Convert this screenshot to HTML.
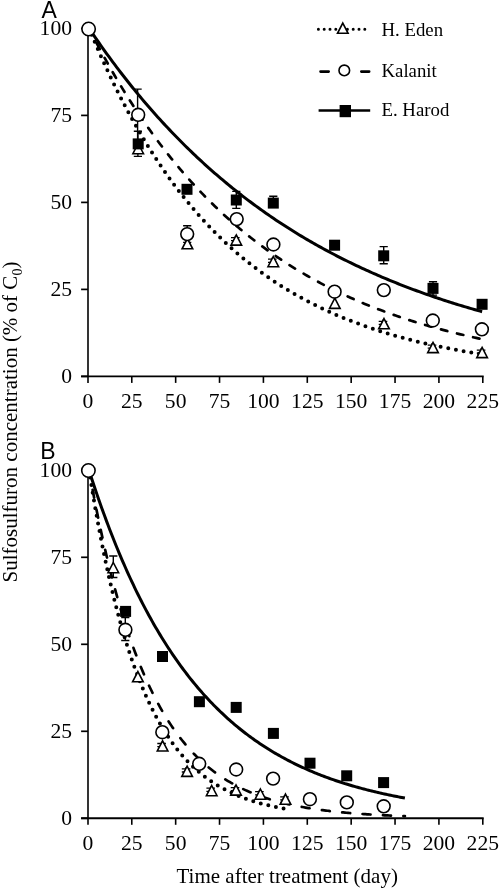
<!DOCTYPE html>
<html><head><meta charset="utf-8"><style>
html,body{margin:0;padding:0;background:#fff;overflow:hidden;width:500px;height:889px;}
svg{display:block;filter:grayscale(1);}
.t{font-family:"Liberation Serif",serif;font-size:21px;fill:#000;}
.lg{font-family:"Liberation Serif",serif;font-size:18.8px;fill:#000;}
.tk{font-size:21.6px;}
.ss{font-family:"Liberation Sans",sans-serif;font-size:23px;fill:#000;}
.ax{stroke:#000;stroke-width:1.9;fill:none;}
.solid{stroke:#000;stroke-width:3;fill:none;}
.dash{stroke:#000;stroke-width:2.7;fill:none;stroke-linecap:round;}
.dot{stroke:#000;stroke-width:4;fill:none;stroke-linecap:round;}
.tri{fill:#fff;stroke:#000;stroke-width:1.6;stroke-linejoin:miter;}
.cir{fill:#fff;stroke:#000;stroke-width:1.6;}
.sq{fill:#000;}
.eb{stroke:#000;stroke-width:1.4;fill:none;}
</style></head><body>
<svg width="500" height="889" viewBox="0 0 500 889">
<text class="ss" x="41.6" y="18.0">A</text>
<text class="ss" x="40.2" y="459.2">B</text>
<text class="t" x="176.5" y="882.7">Time after treatment (day)</text>
<text class="t" transform="translate(17.0 582.4) rotate(-90)">Sulfosulfuron concentration (% of C<tspan font-size="14" dy="5">0</tspan><tspan dy="-5">)</tspan></text>
<path class="ax" style="stroke-width:1.6" d="M88.00 24.00 V382.90"/>
<path class="ax" d="M81.10 376.40 H483.70"/>
<text class="t tk" x="87.90" y="408.30" text-anchor="middle">0</text>
<path class="ax" style="stroke-width:1.6" d="M131.78 376.40 V382.90"/>
<text class="t tk" x="131.78" y="408.30" text-anchor="middle">25</text>
<path class="ax" style="stroke-width:1.6" d="M175.66 376.40 V382.90"/>
<text class="t tk" x="175.66" y="408.30" text-anchor="middle">50</text>
<path class="ax" style="stroke-width:1.6" d="M219.53 376.40 V382.90"/>
<text class="t tk" x="219.53" y="408.30" text-anchor="middle">75</text>
<path class="ax" style="stroke-width:1.6" d="M263.41 376.40 V382.90"/>
<text class="t tk" x="263.41" y="408.30" text-anchor="middle">100</text>
<path class="ax" style="stroke-width:1.6" d="M307.29 376.40 V382.90"/>
<text class="t tk" x="307.29" y="408.30" text-anchor="middle">125</text>
<path class="ax" style="stroke-width:1.6" d="M351.17 376.40 V382.90"/>
<text class="t tk" x="351.17" y="408.30" text-anchor="middle">150</text>
<path class="ax" style="stroke-width:1.6" d="M395.04 376.40 V382.90"/>
<text class="t tk" x="395.04" y="408.30" text-anchor="middle">175</text>
<path class="ax" style="stroke-width:1.6" d="M438.92 376.40 V382.90"/>
<text class="t tk" x="438.92" y="408.30" text-anchor="middle">200</text>
<path class="ax" style="stroke-width:1.6" d="M482.80 376.40 V382.90"/>
<text class="t tk" x="482.80" y="408.30" text-anchor="middle">225</text>
<path class="ax" style="stroke-width:1.7" d="M81.10 376.40 H87.90"/>
<text class="t tk" x="72" y="383.30" text-anchor="end">0</text>
<path class="ax" style="stroke-width:1.7" d="M81.10 289.40 H87.90"/>
<text class="t tk" x="72" y="296.30" text-anchor="end">25</text>
<path class="ax" style="stroke-width:1.7" d="M81.10 202.40 H87.90"/>
<text class="t tk" x="72" y="209.30" text-anchor="end">50</text>
<path class="ax" style="stroke-width:1.7" d="M81.10 115.40 H87.90"/>
<text class="t tk" x="72" y="122.30" text-anchor="end">75</text>
<path class="ax" style="stroke-width:1.7" d="M81.10 28.40 H87.90"/>
<text class="t tk" x="72" y="35.30" text-anchor="end">100</text>
<path class="dot" style="stroke-dasharray:0.000 7.800;stroke-dashoffset:1.018" d="M89.07 28.40 L91.04 33.16 L93.00 37.86 L94.97 42.49 L96.93 47.06 L98.90 51.56 L100.86 56.01 L102.83 60.39 L104.79 64.71 L106.76 68.98 L108.72 73.18 L110.69 77.33 L112.65 81.43 L114.62 85.46 L116.58 89.44 L118.55 93.37 L120.51 97.24 L122.48 101.06 L124.44 104.83 L126.41 108.54 L128.37 112.21 L130.34 115.82 L132.30 119.39 L134.27 122.90 L136.23 126.37 L138.20 129.79 L140.16 133.17 L142.13 136.49 L144.09 139.78 L146.06 143.01 L148.02 146.21 L149.99 149.36 L151.95 152.46 L153.92 155.53 L155.89 158.55 L157.85 161.53 L159.82 164.47 L161.78 167.37 L163.75 170.23 L165.71 173.05 L167.68 175.83 L169.64 178.57 L171.61 181.28 L173.57 183.95 L175.54 186.58 L177.50 189.18 L179.47 191.74 L181.43 194.27 L183.40 196.76 L185.36 199.22 L187.33 201.64 L189.29 204.03 L191.26 206.39 L193.22 208.72 L195.19 211.01 L197.15 213.27 L199.12 215.51 L201.08 217.71 L203.05 219.88 L205.01 222.02 L206.98 224.13 L208.94 226.22 L210.91 228.27 L212.87 230.30 L214.84 232.30 L216.80 234.27 L218.77 236.21 L220.74 238.13 L222.70 240.02 L224.67 241.89 L226.63 243.73 L228.60 245.54 L230.56 247.33 L232.53 249.10 L234.49 250.84 L236.46 252.56 L238.42 254.25 L240.39 255.92 L242.35 257.57 L244.32 259.20 L246.28 260.80 L248.25 262.38 L250.21 263.94 L252.18 265.48 L254.14 267.00 L256.11 268.50 L258.07 269.97 L260.04 271.43 L262.00 272.86 L263.97 274.28 L265.93 275.68 L267.90 277.06 L269.86 278.42 L271.83 279.76 L273.79 281.08 L275.76 282.38 L277.72 283.67 L279.69 284.94 L281.65 286.19 L283.62 287.42 L285.59 288.64 L287.55 289.84 L289.52 291.03 L291.48 292.19 L293.45 293.35 L295.41 294.48 L297.38 295.60 L299.34 296.71 L301.31 297.80 L303.27 298.87 L305.24 299.93 L307.20 300.98 L309.17 302.01 L311.13 303.03 L313.10 304.03 L315.06 305.02 L317.03 306.00 L318.99 306.96 L320.96 307.91 L322.92 308.85 L324.89 309.77 L326.85 310.69 L328.82 311.59 L330.78 312.47 L332.75 313.35 L334.71 314.21 L336.68 315.06 L338.64 315.90 L340.61 316.73 L342.57 317.54 L344.54 318.35 L346.50 319.14 L348.47 319.93 L350.44 320.70 L352.40 321.46 L354.37 322.21 L356.33 322.95 L358.30 323.69 L360.26 324.41 L362.23 325.12 L364.19 325.82 L366.16 326.51 L368.12 327.19 L370.09 327.87 L372.05 328.53 L374.02 329.19 L375.98 329.83 L377.95 330.47 L379.91 331.10 L381.88 331.72 L383.84 332.33 L385.81 332.93 L387.77 333.53 L389.74 334.11 L391.70 334.69 L393.67 335.26 L395.63 335.83 L397.60 336.38 L399.56 336.93 L401.53 337.47 L403.49 338.00 L405.46 338.53 L407.42 339.04 L409.39 339.56 L411.35 340.06 L413.32 340.56 L415.29 341.05 L417.25 341.53 L419.22 342.01 L421.18 342.48 L423.15 342.94 L425.11 343.40 L427.08 343.85 L429.04 344.30 L431.01 344.74 L432.97 345.17 L434.94 345.60 L436.90 346.02 L438.87 346.43 L440.83 346.84 L442.80 347.25 L444.76 347.65 L446.73 348.04 L448.69 348.43 L450.66 348.81 L452.62 349.19 L454.59 349.56 L456.55 349.93 L458.52 350.29 L460.48 350.65 L462.45 351.00 L464.41 351.35 L466.38 351.69 L468.34 352.03 L470.31 352.36 L472.27 352.69 L474.24 353.01 L476.20 353.33 L478.17 353.65 L480.14 353.96 L482.10 354.27"/>
<path class="dash" style="stroke-dasharray:6.500 10.020;stroke-dashoffset:16.295" d="M89.07 28.40 L91.04 32.27 L93.00 36.09 L94.97 39.88 L96.93 43.62 L98.90 47.32 L100.86 50.97 L102.83 54.59 L104.79 58.17 L106.76 61.70 L108.72 65.20 L110.69 68.66 L112.65 72.08 L114.62 75.47 L116.58 78.81 L118.55 82.12 L120.51 85.39 L122.48 88.62 L124.44 91.82 L126.41 94.99 L128.37 98.11 L130.34 101.21 L132.30 104.27 L134.27 107.29 L136.23 110.28 L138.20 113.24 L140.16 116.17 L142.13 119.06 L144.09 121.92 L146.06 124.75 L148.02 127.54 L149.99 130.31 L151.95 133.05 L153.92 135.75 L155.89 138.43 L157.85 141.07 L159.82 143.69 L161.78 146.27 L163.75 148.83 L165.71 151.36 L167.68 153.86 L169.64 156.34 L171.61 158.78 L173.57 161.20 L175.54 163.59 L177.50 165.96 L179.47 168.30 L181.43 170.61 L183.40 172.90 L185.36 175.16 L187.33 177.40 L189.29 179.61 L191.26 181.80 L193.22 183.96 L195.19 186.10 L197.15 188.21 L199.12 190.31 L201.08 192.37 L203.05 194.42 L205.01 196.44 L206.98 198.44 L208.94 200.42 L210.91 202.38 L212.87 204.31 L214.84 206.22 L216.80 208.12 L218.77 209.99 L220.74 211.84 L222.70 213.66 L224.67 215.47 L226.63 217.26 L228.60 219.03 L230.56 220.78 L232.53 222.51 L234.49 224.22 L236.46 225.91 L238.42 227.58 L240.39 229.24 L242.35 230.87 L244.32 232.49 L246.28 234.09 L248.25 235.67 L250.21 237.24 L252.18 238.78 L254.14 240.31 L256.11 241.83 L258.07 243.32 L260.04 244.80 L262.00 246.26 L263.97 247.71 L265.93 249.14 L267.90 250.56 L269.86 251.96 L271.83 253.34 L273.79 254.71 L275.76 256.06 L277.72 257.40 L279.69 258.72 L281.65 260.03 L283.62 261.32 L285.59 262.60 L287.55 263.86 L289.52 265.12 L291.48 266.35 L293.45 267.58 L295.41 268.79 L297.38 269.98 L299.34 271.16 L301.31 272.33 L303.27 273.49 L305.24 274.63 L307.20 275.77 L309.17 276.88 L311.13 277.99 L313.10 279.08 L315.06 280.17 L317.03 281.24 L318.99 282.29 L320.96 283.34 L322.92 284.37 L324.89 285.40 L326.85 286.41 L328.82 287.41 L330.78 288.40 L332.75 289.38 L334.71 290.34 L336.68 291.30 L338.64 292.25 L340.61 293.18 L342.57 294.11 L344.54 295.02 L346.50 295.93 L348.47 296.82 L350.44 297.70 L352.40 298.58 L354.37 299.44 L356.33 300.30 L358.30 301.15 L360.26 301.98 L362.23 302.81 L364.19 303.63 L366.16 304.44 L368.12 305.24 L370.09 306.03 L372.05 306.81 L374.02 307.58 L375.98 308.35 L377.95 309.10 L379.91 309.85 L381.88 310.59 L383.84 311.32 L385.81 312.05 L387.77 312.76 L389.74 313.47 L391.70 314.17 L393.67 314.86 L395.63 315.54 L397.60 316.22 L399.56 316.89 L401.53 317.55 L403.49 318.21 L405.46 318.85 L407.42 319.49 L409.39 320.12 L411.35 320.75 L413.32 321.37 L415.29 321.98 L417.25 322.59 L419.22 323.18 L421.18 323.78 L423.15 324.36 L425.11 324.94 L427.08 325.51 L429.04 326.08 L431.01 326.64 L432.97 327.19 L434.94 327.74 L436.90 328.28 L438.87 328.81 L440.83 329.34 L442.80 329.86 L444.76 330.38 L446.73 330.89 L448.69 331.40 L450.66 331.90 L452.62 332.39 L454.59 332.88 L456.55 333.37 L458.52 333.84 L460.48 334.32 L462.45 334.79 L464.41 335.25 L466.38 335.71 L468.34 336.16 L470.31 336.60 L472.27 337.05 L474.24 337.48 L476.20 337.92 L478.17 338.34 L480.14 338.77 L482.10 339.19"/>
<path class="solid" d="M89.07 28.40 L91.04 31.31 L93.00 34.21 L94.97 37.07 L96.93 39.91 L98.90 42.73 L100.86 45.53 L102.83 48.30 L104.79 51.05 L106.76 53.77 L108.72 56.47 L110.69 59.15 L112.65 61.81 L114.62 64.45 L116.58 67.06 L118.55 69.65 L120.51 72.22 L122.48 74.77 L124.44 77.29 L126.41 79.80 L128.37 82.28 L130.34 84.75 L132.30 87.19 L134.27 89.61 L136.23 92.01 L138.20 94.40 L140.16 96.76 L142.13 99.10 L144.09 101.42 L146.06 103.73 L148.02 106.01 L149.99 108.27 L151.95 110.52 L153.92 112.75 L155.89 114.96 L157.85 117.15 L159.82 119.32 L161.78 121.47 L163.75 123.61 L165.71 125.72 L167.68 127.82 L169.64 129.90 L171.61 131.97 L173.57 134.02 L175.54 136.05 L177.50 138.06 L179.47 140.06 L181.43 142.04 L183.40 144.00 L185.36 145.95 L187.33 147.88 L189.29 149.79 L191.26 151.69 L193.22 153.57 L195.19 155.44 L197.15 157.29 L199.12 159.12 L201.08 160.94 L203.05 162.75 L205.01 164.54 L206.98 166.31 L208.94 168.07 L210.91 169.82 L212.87 171.55 L214.84 173.26 L216.80 174.96 L218.77 176.65 L220.74 178.32 L222.70 179.98 L224.67 181.63 L226.63 183.26 L228.60 184.88 L230.56 186.48 L232.53 188.07 L234.49 189.65 L236.46 191.21 L238.42 192.76 L240.39 194.30 L242.35 195.83 L244.32 197.34 L246.28 198.84 L248.25 200.33 L250.21 201.80 L252.18 203.26 L254.14 204.71 L256.11 206.15 L258.07 207.58 L260.04 208.99 L262.00 210.40 L263.97 211.79 L265.93 213.16 L267.90 214.53 L269.86 215.89 L271.83 217.23 L273.79 218.57 L275.76 219.89 L277.72 221.20 L279.69 222.50 L281.65 223.79 L283.62 225.07 L285.59 226.33 L287.55 227.59 L289.52 228.84 L291.48 230.07 L293.45 231.30 L295.41 232.51 L297.38 233.72 L299.34 234.91 L301.31 236.10 L303.27 237.27 L305.24 238.44 L307.20 239.59 L309.17 240.74 L311.13 241.88 L313.10 243.00 L315.06 244.12 L317.03 245.23 L318.99 246.33 L320.96 247.42 L322.92 248.50 L324.89 249.57 L326.85 250.63 L328.82 251.68 L330.78 252.73 L332.75 253.76 L334.71 254.79 L336.68 255.81 L338.64 256.82 L340.61 257.82 L342.57 258.82 L344.54 259.80 L346.50 260.78 L348.47 261.75 L350.44 262.71 L352.40 263.66 L354.37 264.60 L356.33 265.54 L358.30 266.47 L360.26 267.39 L362.23 268.30 L364.19 269.21 L366.16 270.10 L368.12 270.99 L370.09 271.88 L372.05 272.75 L374.02 273.62 L375.98 274.48 L377.95 275.34 L379.91 276.18 L381.88 277.02 L383.84 277.85 L385.81 278.68 L387.77 279.50 L389.74 280.31 L391.70 281.11 L393.67 281.91 L395.63 282.70 L397.60 283.49 L399.56 284.27 L401.53 285.04 L403.49 285.80 L405.46 286.56 L407.42 287.32 L409.39 288.06 L411.35 288.80 L413.32 289.54 L415.29 290.26 L417.25 290.98 L419.22 291.70 L421.18 292.41 L423.15 293.11 L425.11 293.81 L427.08 294.50 L429.04 295.19 L431.01 295.87 L432.97 296.54 L434.94 297.21 L436.90 297.87 L438.87 298.53 L440.83 299.18 L442.80 299.83 L444.76 300.47 L446.73 301.11 L448.69 301.74 L450.66 302.36 L452.62 302.98 L454.59 303.60 L456.55 304.21 L458.52 304.81 L460.48 305.41 L462.45 306.01 L464.41 306.60 L466.38 307.18 L468.34 307.76 L470.31 308.34 L472.27 308.91 L474.24 309.47 L476.20 310.03 L478.17 310.59 L480.14 311.14 L482.10 311.69"/>
<path class="eb" d="M137.60 89.10 V140.50 M133.50 89.10 H141.70 M133.50 140.50 H141.70"/>
<path class="eb" d="M137.90 131.20 V156.40 M133.80 131.20 H142.00 M133.80 156.40 H142.00"/>
<path class="eb" d="M187.20 225.80 V242.40 M183.10 225.80 H191.30 M183.10 242.40 H191.30"/>
<path class="eb" d="M236.30 191.40 V208.40 M232.20 191.40 H240.40 M232.20 208.40 H240.40"/>
<path class="eb" d="M273.30 196.20 V206.00 M269.20 196.20 H277.40 M269.20 206.00 H277.40"/>
<path class="eb" d="M383.70 246.60 V263.80 M379.60 246.60 H387.80 M379.60 263.80 H387.80"/>
<path class="eb" d="M433.00 281.70 V295.10 M428.90 281.70 H437.10 M428.90 295.10 H437.10"/>
<path class="eb" style="stroke-width:1.3" d="M231.00 237.60 H239.60 M231.00 240.70 H234.30 M235.30 235.80 V240.70"/>
<path class="eb" style="stroke-width:1.3" d="M268.00 259.20 H276.60 M268.00 262.30 H271.30 M272.30 257.40 V262.30"/>
<path class="eb" style="stroke-width:1.3" d="M378.70 321.30 H387.30 M378.70 324.40 H382.00 M383.00 319.50 V324.40"/>
<path class="eb" style="stroke-width:1.3" d="M427.70 345.10 H436.30 M427.70 348.20 H431.00 M432.00 343.30 V348.20"/>
<path class="eb" style="stroke-width:1.3" d="M476.80 350.10 H485.40 M476.80 353.20 H480.10 M481.10 348.30 V353.20"/>
<path class="tri" d="M138.20 143.50 L143.50 153.70 L132.90 153.70 Z"/>
<path class="tri" d="M187.40 238.60 L192.70 248.80 L182.10 248.80 Z"/>
<path class="tri" d="M236.30 234.90 L241.60 245.10 L231.00 245.10 Z"/>
<path class="tri" d="M273.30 256.50 L278.60 266.70 L268.00 266.70 Z"/>
<path class="tri" d="M334.80 298.20 L340.10 308.40 L329.50 308.40 Z"/>
<path class="tri" d="M384.00 318.60 L389.30 328.80 L378.70 328.80 Z"/>
<path class="tri" d="M433.00 342.40 L438.30 352.60 L427.70 352.60 Z"/>
<path class="tri" d="M482.10 347.40 L487.40 357.60 L476.80 357.60 Z"/>
<rect class="sq" x="132.70" y="138.40" width="11.00" height="11.00"/>
<rect class="sq" x="181.50" y="183.80" width="11.00" height="11.00"/>
<rect class="sq" x="230.80" y="194.50" width="11.00" height="11.00"/>
<rect class="sq" x="267.80" y="197.60" width="11.00" height="11.00"/>
<rect class="sq" x="329.10" y="239.70" width="11.00" height="11.00"/>
<rect class="sq" x="378.20" y="250.30" width="11.00" height="11.00"/>
<rect class="sq" x="427.50" y="282.90" width="11.00" height="11.00"/>
<rect class="sq" x="476.60" y="298.80" width="11.00" height="11.00"/>
<circle class="cir" cx="138.20" cy="114.80" r="6.40"/>
<circle class="cir" cx="187.20" cy="234.10" r="6.40"/>
<circle class="cir" cx="236.70" cy="219.10" r="6.40"/>
<circle class="cir" cx="273.40" cy="244.50" r="6.40"/>
<circle class="cir" cx="334.60" cy="291.70" r="6.40"/>
<circle class="cir" cx="383.80" cy="290.10" r="6.40"/>
<circle class="cir" cx="432.80" cy="320.50" r="6.40"/>
<circle class="cir" cx="481.90" cy="329.30" r="6.40"/>
<circle class="cir" cx="88.60" cy="29.00" r="6.70"/>
<path class="dot" style="stroke-width:3;stroke-dasharray:0 5.8" d="M318.4 29.25 H366"/>
<path class="tri" d="M342.80 23.10 L348.10 33.30 L337.50 33.30 Z"/>
<path class="ax" style="stroke-width:2.6;stroke-linecap:round" d="M320.5 71.6 H328.7 M361.3 71.6 H369.2"/>
<circle class="cir" cx="344.30" cy="70.40" r="5.30"/>
<path class="solid" style="stroke-width:2.5" d="M318.6 110.6 H370.2"/>
<rect x="339.6" y="105" width="11.4" height="12.2" fill="#000"/>
<text class="lg" x="381.5" y="35.8">H. Eden</text>
<text class="lg" x="381.5" y="77">Kalanit</text>
<text class="lg" x="381.5" y="115.8">E. Harod</text>
<path class="ax" style="stroke-width:1.6" d="M88.00 466.00 V824.80"/>
<path class="ax" d="M81.10 818.30 H483.70"/>
<text class="t tk" x="87.90" y="850.20" text-anchor="middle">0</text>
<path class="ax" style="stroke-width:1.6" d="M131.78 818.30 V824.80"/>
<text class="t tk" x="131.78" y="850.20" text-anchor="middle">25</text>
<path class="ax" style="stroke-width:1.6" d="M175.66 818.30 V824.80"/>
<text class="t tk" x="175.66" y="850.20" text-anchor="middle">50</text>
<path class="ax" style="stroke-width:1.6" d="M219.53 818.30 V824.80"/>
<text class="t tk" x="219.53" y="850.20" text-anchor="middle">75</text>
<path class="ax" style="stroke-width:1.6" d="M263.41 818.30 V824.80"/>
<text class="t tk" x="263.41" y="850.20" text-anchor="middle">100</text>
<path class="ax" style="stroke-width:1.6" d="M307.29 818.30 V824.80"/>
<text class="t tk" x="307.29" y="850.20" text-anchor="middle">125</text>
<path class="ax" style="stroke-width:1.6" d="M351.17 818.30 V824.80"/>
<text class="t tk" x="351.17" y="850.20" text-anchor="middle">150</text>
<path class="ax" style="stroke-width:1.6" d="M395.04 818.30 V824.80"/>
<text class="t tk" x="395.04" y="850.20" text-anchor="middle">175</text>
<path class="ax" style="stroke-width:1.6" d="M438.92 818.30 V824.80"/>
<text class="t tk" x="438.92" y="850.20" text-anchor="middle">200</text>
<path class="ax" style="stroke-width:1.6" d="M482.80 818.30 V824.80"/>
<text class="t tk" x="482.80" y="850.20" text-anchor="middle">225</text>
<path class="ax" style="stroke-width:1.7" d="M81.10 818.30 H87.90"/>
<text class="t tk" x="72" y="825.20" text-anchor="end">0</text>
<path class="ax" style="stroke-width:1.7" d="M81.10 731.30 H87.90"/>
<text class="t tk" x="72" y="738.20" text-anchor="end">25</text>
<path class="ax" style="stroke-width:1.7" d="M81.10 644.30 H87.90"/>
<text class="t tk" x="72" y="651.20" text-anchor="end">50</text>
<path class="ax" style="stroke-width:1.7" d="M81.10 557.30 H87.90"/>
<text class="t tk" x="72" y="564.20" text-anchor="end">75</text>
<path class="ax" style="stroke-width:1.7" d="M81.10 470.30 H87.90"/>
<text class="t tk" x="72" y="477.20" text-anchor="end">100</text>
<path class="dot" style="stroke-dasharray:0.000 7.790;stroke-dashoffset:0.801" d="M89.07 470.50 L90.04 476.66 L91.02 482.71 L91.99 488.66 L92.97 494.49 L93.94 500.23 L94.91 505.86 L95.89 511.40 L96.86 516.83 L97.83 522.17 L98.81 527.42 L99.78 532.57 L100.76 537.63 L101.73 542.60 L102.70 547.49 L103.68 552.28 L104.65 556.99 L105.62 561.62 L106.60 566.17 L107.57 570.63 L108.55 575.02 L109.52 579.33 L110.49 583.56 L111.47 587.72 L112.44 591.80 L113.42 595.82 L114.39 599.76 L115.36 603.63 L116.34 607.43 L117.31 611.17 L118.28 614.83 L119.26 618.44 L120.23 621.98 L121.21 625.46 L122.18 628.87 L123.15 632.23 L124.13 635.52 L125.10 638.76 L126.07 641.94 L127.05 645.06 L128.02 648.13 L129.00 651.15 L129.97 654.11 L130.94 657.01 L131.92 659.87 L132.89 662.68 L133.86 665.43 L134.84 668.14 L135.81 670.80 L136.79 673.41 L137.76 675.98 L138.73 678.50 L139.71 680.98 L140.68 683.41 L141.66 685.80 L142.63 688.15 L143.60 690.45 L144.58 692.72 L145.55 694.94 L146.52 697.12 L147.50 699.27 L148.47 701.38 L149.45 703.45 L150.42 705.48 L151.39 707.48 L152.37 709.45 L153.34 711.37 L154.31 713.27 L155.29 715.13 L156.26 716.96 L157.24 718.75 L158.21 720.51 L159.18 722.25 L160.16 723.95 L161.13 725.62 L162.11 727.26 L163.08 728.87 L164.05 730.46 L165.03 732.01 L166.00 733.54 L166.97 735.04 L167.95 736.52 L168.92 737.96 L169.90 739.39 L170.87 740.79 L171.84 742.16 L172.82 743.51 L173.79 744.83 L174.76 746.13 L175.74 747.41 L176.71 748.67 L177.69 749.90 L178.66 751.11 L179.63 752.30 L180.61 753.47 L181.58 754.62 L182.56 755.75 L183.53 756.86 L184.50 757.94 L185.48 759.01 L186.45 760.06 L187.42 761.09 L188.40 762.11 L189.37 763.10 L190.35 764.08 L191.32 765.04 L192.29 765.98 L193.27 766.91 L194.24 767.82 L195.21 768.71 L196.19 769.59 L197.16 770.46 L198.14 771.30 L199.11 772.14 L200.08 772.95 L201.06 773.76 L202.03 774.55 L203.00 775.32 L203.98 776.08 L204.95 776.83 L205.93 777.56 L206.90 778.29 L207.87 778.99 L208.85 779.69 L209.82 780.37 L210.80 781.05 L211.77 781.71 L212.74 782.35 L213.72 782.99 L214.69 783.62 L215.66 784.23 L216.64 784.83 L217.61 785.43 L218.59 786.01 L219.56 786.58 L220.53 787.14 L221.51 787.69 L222.48 788.24 L223.45 788.77 L224.43 789.29 L225.40 789.81 L226.38 790.31 L227.35 790.81 L228.32 791.29 L229.30 791.77 L230.27 792.24 L231.25 792.70 L232.22 793.16 L233.19 793.60 L234.17 794.04 L235.14 794.47 L236.11 794.89 L237.09 795.31 L238.06 795.71 L239.04 796.11 L240.01 796.51 L240.98 796.89 L241.96 797.27 L242.93 797.64 L243.90 798.01 L244.88 798.37 L245.85 798.72 L246.83 799.07 L247.80 799.41 L248.77 799.74 L249.75 800.07 L250.72 800.40 L251.70 800.71 L252.67 801.02 L253.64 801.33 L254.62 801.63 L255.59 801.93 L256.56 802.22 L257.54 802.50 L258.51 802.78 L259.49 803.06 L260.46 803.33 L261.43 803.59 L262.41 803.85 L263.38 804.11 L264.35 804.36 L265.33 804.61 L266.30 804.85 L267.28 805.09 L268.25 805.32 L269.22 805.55 L270.20 805.78 L271.17 806.00 L272.14 806.22 L273.12 806.43 L274.09 806.64 L275.07 806.85 L276.04 807.05 L277.01 807.25 L277.99 807.44 L278.96 807.64 L279.94 807.83 L280.91 808.01 L281.88 808.19 L282.86 808.37 L283.83 808.55"/>
<path class="dash" style="stroke-dasharray:8.000 12.430;stroke-dashoffset:0.830" d="M89.07 470.50 L90.65 479.22 L92.23 487.71 L93.81 496.00 L95.39 504.08 L96.97 511.95 L98.54 519.63 L100.12 527.11 L101.70 534.41 L103.28 541.52 L104.86 548.46 L106.44 555.22 L108.02 561.82 L109.60 568.24 L111.18 574.51 L112.76 580.62 L114.34 586.58 L115.92 592.38 L117.49 598.04 L119.07 603.56 L120.65 608.95 L122.23 614.19 L123.81 619.31 L125.39 624.29 L126.97 629.16 L128.55 633.90 L130.13 638.52 L131.71 643.02 L133.29 647.42 L134.87 651.70 L136.44 655.87 L138.02 659.94 L139.60 663.91 L141.18 667.78 L142.76 671.55 L144.34 675.23 L145.92 678.82 L147.50 682.31 L149.08 685.72 L150.66 689.04 L152.24 692.28 L153.81 695.44 L155.39 698.52 L156.97 701.52 L158.55 704.45 L160.13 707.30 L161.71 710.08 L163.29 712.79 L164.87 715.44 L166.45 718.02 L168.03 720.53 L169.61 722.98 L171.19 725.37 L172.76 727.70 L174.34 729.97 L175.92 732.18 L177.50 734.34 L179.08 736.44 L180.66 738.49 L182.24 740.49 L183.82 742.44 L185.40 744.35 L186.98 746.20 L188.56 748.01 L190.13 749.77 L191.71 751.49 L193.29 753.16 L194.87 754.79 L196.45 756.38 L198.03 757.94 L199.61 759.45 L201.19 760.92 L202.77 762.36 L204.35 763.76 L205.93 765.13 L207.51 766.46 L209.08 767.76 L210.66 769.03 L212.24 770.26 L213.82 771.47 L215.40 772.64 L216.98 773.78 L218.56 774.90 L220.14 775.99 L221.72 777.05 L223.30 778.08 L224.88 779.09 L226.46 780.07 L228.03 781.03 L229.61 781.96 L231.19 782.87 L232.77 783.76 L234.35 784.63 L235.93 785.47 L237.51 786.29 L239.09 787.10 L240.67 787.88 L242.25 788.64 L243.83 789.38 L245.40 790.11 L246.98 790.82 L248.56 791.50 L250.14 792.18 L251.72 792.83 L253.30 793.47 L254.88 794.09 L256.46 794.70 L258.04 795.29 L259.62 795.87 L261.20 796.43 L262.78 796.98 L264.35 797.51 L265.93 798.03 L267.51 798.54 L269.09 799.03 L270.67 799.52 L272.25 799.99 L273.83 800.45 L275.41 800.89 L276.99 801.33 L278.57 801.76 L280.15 802.17 L281.73 802.57 L283.30 802.97 L284.88 803.35 L286.46 803.73 L288.04 804.09 L289.62 804.45 L291.20 804.80 L292.78 805.13 L294.36 805.46 L295.94 805.79 L297.52 806.10 L299.10 806.41 L300.67 806.70 L302.25 806.99 L303.83 807.28 L305.41 807.55 L306.99 807.82 L308.57 808.09 L310.15 808.34 L311.73 808.59 L313.31 808.83 L314.89 809.07 L316.47 809.30 L318.05 809.53 L319.62 809.75 L321.20 809.96 L322.78 810.17 L324.36 810.38 L325.94 810.57 L327.52 810.77 L329.10 810.96 L330.68 811.14 L332.26 811.32 L333.84 811.49 L335.42 811.67 L336.99 811.83 L338.57 811.99 L340.15 812.15 L341.73 812.31 L343.31 812.46 L344.89 812.60 L346.47 812.75 L348.05 812.88 L349.63 813.02 L351.21 813.15 L352.79 813.28 L354.37 813.41 L355.94 813.53 L357.52 813.65 L359.10 813.77 L360.68 813.88 L362.26 813.99 L363.84 814.10 L365.42 814.20 L367.00 814.31 L368.58 814.41 L370.16 814.50 L371.74 814.60 L373.32 814.69 L374.89 814.78 L376.47 814.87 L378.05 814.96 L379.63 815.04 L381.21 815.12 L382.79 815.20 L384.37 815.28 L385.95 815.35 L387.53 815.43 L389.11 815.50 L390.69 815.57 L392.26 815.64 L393.84 815.71 L395.42 815.77 L397.00 815.83 L398.58 815.90 L400.16 815.96 L401.74 816.01 L403.32 816.07 L404.90 816.13"/>
<path class="solid" d="M89.07 470.50 L90.65 475.41 L92.23 480.25 L93.81 485.03 L95.39 489.73 L96.97 494.37 L98.54 498.94 L100.12 503.45 L101.70 507.90 L103.28 512.28 L104.86 516.60 L106.44 520.86 L108.02 525.06 L109.60 529.20 L111.18 533.28 L112.76 537.31 L114.34 541.28 L115.92 545.19 L117.49 549.04 L119.07 552.84 L120.65 556.59 L122.23 560.29 L123.81 563.93 L125.39 567.52 L126.97 571.06 L128.55 574.55 L130.13 578.00 L131.71 581.39 L133.29 584.73 L134.87 588.03 L136.44 591.28 L138.02 594.49 L139.60 597.65 L141.18 600.76 L142.76 603.83 L144.34 606.86 L145.92 609.85 L147.50 612.79 L149.08 615.69 L150.66 618.55 L152.24 621.37 L153.81 624.15 L155.39 626.90 L156.97 629.60 L158.55 632.26 L160.13 634.89 L161.71 637.48 L163.29 640.03 L164.87 642.55 L166.45 645.03 L168.03 647.48 L169.61 649.89 L171.19 652.27 L172.76 654.61 L174.34 656.92 L175.92 659.20 L177.50 661.45 L179.08 663.66 L180.66 665.85 L182.24 668.00 L183.82 670.12 L185.40 672.21 L186.98 674.27 L188.56 676.31 L190.13 678.31 L191.71 680.29 L193.29 682.24 L194.87 684.16 L196.45 686.05 L198.03 687.92 L199.61 689.76 L201.19 691.58 L202.77 693.37 L204.35 695.13 L205.93 696.87 L207.51 698.58 L209.08 700.27 L210.66 701.94 L212.24 703.58 L213.82 705.20 L215.40 706.80 L216.98 708.37 L218.56 709.93 L220.14 711.46 L221.72 712.96 L223.30 714.45 L224.88 715.92 L226.46 717.36 L228.03 718.79 L229.61 720.19 L231.19 721.58 L232.77 722.94 L234.35 724.29 L235.93 725.62 L237.51 726.93 L239.09 728.22 L240.67 729.49 L242.25 730.74 L243.83 731.98 L245.40 733.20 L246.98 734.40 L248.56 735.58 L250.14 736.75 L251.72 737.90 L253.30 739.04 L254.88 740.16 L256.46 741.26 L258.04 742.35 L259.62 743.42 L261.20 744.48 L262.78 745.52 L264.35 746.55 L265.93 747.56 L267.51 748.56 L269.09 749.55 L270.67 750.52 L272.25 751.47 L273.83 752.42 L275.41 753.35 L276.99 754.26 L278.57 755.17 L280.15 756.06 L281.73 756.94 L283.30 757.80 L284.88 758.66 L286.46 759.50 L288.04 760.33 L289.62 761.15 L291.20 761.96 L292.78 762.75 L294.36 763.54 L295.94 764.31 L297.52 765.07 L299.10 765.82 L300.67 766.56 L302.25 767.29 L303.83 768.01 L305.41 768.72 L306.99 769.42 L308.57 770.12 L310.15 770.80 L311.73 771.47 L313.31 772.13 L314.89 772.78 L316.47 773.42 L318.05 774.06 L319.62 774.68 L321.20 775.30 L322.78 775.90 L324.36 776.50 L325.94 777.09 L327.52 777.67 L329.10 778.25 L330.68 778.81 L332.26 779.37 L333.84 779.92 L335.42 780.46 L336.99 781.00 L338.57 781.52 L340.15 782.04 L341.73 782.55 L343.31 783.06 L344.89 783.56 L346.47 784.05 L348.05 784.53 L349.63 785.01 L351.21 785.48 L352.79 785.94 L354.37 786.40 L355.94 786.85 L357.52 787.29 L359.10 787.73 L360.68 788.16 L362.26 788.59 L363.84 789.01 L365.42 789.42 L367.00 789.83 L368.58 790.23 L370.16 790.63 L371.74 791.02 L373.32 791.40 L374.89 791.78 L376.47 792.16 L378.05 792.53 L379.63 792.89 L381.21 793.25 L382.79 793.60 L384.37 793.95 L385.95 794.29 L387.53 794.63 L389.11 794.97 L390.69 795.30 L392.26 795.62 L393.84 795.94 L395.42 796.26 L397.00 796.57 L398.58 796.88 L400.16 797.18 L401.74 797.48 L403.32 797.77 L404.90 798.06"/>
<path class="eb" d="M113.30 556.00 V577.50 M109.20 556.00 H117.40 M109.20 577.50 H117.40"/>
<path class="eb" d="M125.30 617.50 V640.50 M121.20 617.50 H129.40 M121.20 640.50 H129.40"/>
<path class="eb" style="stroke-width:1.3" d="M157.30 743.50 H165.90 M157.30 746.60 H160.60 M161.60 741.70 V746.60"/>
<path class="eb" style="stroke-width:1.3" d="M181.80 768.90 H190.40 M181.80 772.00 H185.10 M186.10 767.10 V772.00"/>
<path class="eb" style="stroke-width:1.3" d="M206.40 788.20 H215.00 M206.40 791.30 H209.70 M210.70 786.40 V791.30"/>
<path class="eb" style="stroke-width:1.3" d="M230.70 787.60 H239.30 M230.70 790.70 H234.00 M235.00 785.80 V790.70"/>
<path class="eb" style="stroke-width:1.3" d="M255.10 791.70 H263.70 M255.10 794.80 H258.40 M259.40 789.90 V794.80"/>
<path class="eb" style="stroke-width:1.3" d="M280.20 796.80 H288.80 M280.20 799.90 H283.50 M284.50 795.00 V799.90"/>
<path class="tri" d="M113.30 562.50 L118.60 572.70 L108.00 572.70 Z"/>
<path class="tri" d="M137.90 671.60 L143.20 681.80 L132.60 681.80 Z"/>
<path class="tri" d="M162.60 740.80 L167.90 751.00 L157.30 751.00 Z"/>
<path class="tri" d="M187.10 766.20 L192.40 776.40 L181.80 776.40 Z"/>
<path class="tri" d="M211.70 785.50 L217.00 795.70 L206.40 795.70 Z"/>
<path class="tri" d="M236.00 784.90 L241.30 795.10 L230.70 795.10 Z"/>
<path class="tri" d="M260.40 789.00 L265.70 799.20 L255.10 799.20 Z"/>
<path class="tri" d="M285.50 794.10 L290.80 804.30 L280.20 804.30 Z"/>
<rect class="sq" x="120.10" y="605.90" width="11.00" height="11.00"/>
<rect class="sq" x="157.00" y="651.00" width="11.00" height="11.00"/>
<rect class="sq" x="193.90" y="696.20" width="11.00" height="11.00"/>
<rect class="sq" x="230.70" y="701.90" width="11.00" height="11.00"/>
<rect class="sq" x="267.90" y="727.90" width="11.00" height="11.00"/>
<rect class="sq" x="304.50" y="757.70" width="11.00" height="11.00"/>
<rect class="sq" x="341.20" y="770.30" width="11.00" height="11.00"/>
<rect class="sq" x="378.10" y="777.10" width="11.00" height="11.00"/>
<circle class="cir" cx="125.40" cy="629.80" r="6.40"/>
<circle class="cir" cx="162.30" cy="732.20" r="6.40"/>
<circle class="cir" cx="199.20" cy="763.80" r="6.40"/>
<circle class="cir" cx="236.20" cy="769.50" r="6.40"/>
<circle class="cir" cx="273.10" cy="778.60" r="6.40"/>
<circle class="cir" cx="309.90" cy="799.20" r="6.40"/>
<circle class="cir" cx="346.80" cy="802.40" r="6.40"/>
<circle class="cir" cx="383.70" cy="806.30" r="6.40"/>
<circle class="cir" cx="88.40" cy="470.50" r="6.70"/>
</svg></body></html>
